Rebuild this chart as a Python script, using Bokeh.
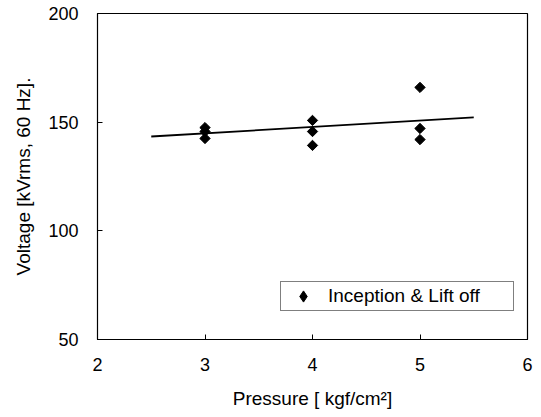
import numpy as np
from bokeh.plotting import figure
from bokeh.models import Legend, LegendItem, FixedTicker
from bokeh.embed import file_html
from bokeh.resources import INLINE

# Data
pressure = [3, 3, 3, 4, 4, 4, 5, 5, 5]
voltage = [147.5, 145.7, 142.5, 150.8, 145.7, 139.3, 166.0, 147.1, 142.0]
fit_x = [2.5, 5.5]
fit_y = [143.4, 152.2]
x_ticks = [2, 3, 4, 5, 6]
y_ticks = [50, 100, 150, 200]
series_name = "Inception & Lift off"

FONT = "Liberation Sans"

p = figure(width=541, height=417, x_range=(2, 6), y_range=(50, 200),
           output_backend="svg", toolbar_location=None,
           min_border_left=97, min_border_right=14, min_border_top=13, min_border_bottom=78)
p.background_fill_color = "white"
p.border_fill_color = "white"
p.outline_line_color = "black"
p.outline_line_width = 1.2
p.grid.visible = False

for ax in (p.xaxis[0], p.yaxis[0]):
    ax.major_tick_in = 5
    ax.major_tick_out = 0
    ax.minor_tick_line_color = None
    ax.axis_line_color = "black"
    ax.major_tick_line_color = "black"
    ax.major_label_text_font = FONT
    ax.major_label_text_font_size = "18px"
    ax.major_label_text_color = "black"
    ax.axis_label_text_font = FONT
    ax.axis_label_text_font_size = "19px"
    ax.axis_label_text_font_style = "normal"
    ax.axis_label_text_color = "black"

p.xaxis.ticker = FixedTicker(ticks=x_ticks)
p.yaxis.ticker = FixedTicker(ticks=y_ticks)
p.xaxis.axis_label = "Pressure [ kgf/cm\u00b2]"
p.yaxis.axis_label = "Voltage [kVrms, 60 Hz]."
p.xaxis.major_label_standoff = 18
p.yaxis.major_label_standoff = 19
p.xaxis.axis_label_standoff = 14
p.yaxis.axis_label_standoff = 11

p.line(fit_x, fit_y, line_color="black", line_width=1.8)
p.scatter(pressure, voltage, marker="square", angle=np.pi / 4, size=7.3,
          fill_color="black", line_color="black")
# legend-only glyph (diamond); its single point is NaN so nothing is drawn in the plot
leg_r = p.scatter(x=[float("nan")], y=[float("nan")], marker="diamond", size=12,
                  fill_color="black", line_color="black")

legend = Legend(items=[LegendItem(label=series_name, renderers=[leg_r])],
                location=(183, 28), orientation="horizontal",
                border_line_color="black", border_line_width=1,
                label_text_font=FONT, label_text_font_size="19px",
                label_text_color="black",
                padding=0, margin=0, spacing=0,
                glyph_width=44, glyph_height=28, label_standoff=3,
                label_width=185, label_height=28,
                background_fill_alpha=1)
p.add_layout(legend, "center")

open("out.html", "w").write(file_html(p, INLINE))
